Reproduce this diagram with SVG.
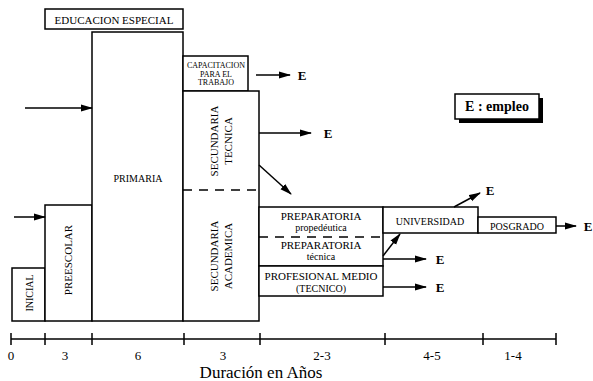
<svg xmlns="http://www.w3.org/2000/svg" width="593" height="381" viewBox="0 0 593 381">
<style>
.box{fill:#fff;stroke:#000;stroke-width:1.5}
.ln{stroke:#000;stroke-width:1.5;fill:none}
.dash{stroke:#000;stroke-width:1.5;stroke-dasharray:9,7;fill:none}
.t{font-family:'Liberation Serif','DejaVu Serif',serif;fill:#000;text-anchor:middle;dominant-baseline:central}
.s11{font-size:11px}
.s10{font-size:10px}
.s8{font-size:8px}
.e{font-size:13px;font-weight:bold}
.ax{font-size:13px}
</style>
<defs>
<marker id="ah" markerUnits="userSpaceOnUse" markerWidth="12" markerHeight="8" refX="11" refY="4" orient="auto">
<path d="M0,0.5 L12,4 L0,7.5 Z" fill="#000"/>
</marker>
</defs>
<g id="especial"><rect class="box" x="45" y="9" width="138" height="20"/><text class="t s11" x="114" y="19.5">EDUCACION ESPECIAL</text></g>
<g id="inicial"><rect class="box" x="12" y="268" width="33" height="53"/><text class="t s10" transform="translate(29,293) rotate(-90)">INICIAL</text></g>
<g id="preescolar"><rect class="box" x="45" y="205" width="47" height="116"/><text class="t s11" transform="translate(68,260) rotate(-90)">PREESCOLAR</text></g>
<g id="primaria"><rect class="box" x="92" y="32" width="91" height="289"/><text class="t s10" x="138" y="178">PRIMARIA</text></g>
<g id="capacitacion"><rect class="box" x="183" y="56" width="65" height="35"/><text class="t s8" x="216" y="65.5">CAPACITACION</text><text class="t s8" x="216" y="74">PARA EL</text><text class="t s8" x="216" y="82.5">TRABAJO</text></g>
<g id="secundaria"><rect class="box" x="183" y="91" width="76" height="230"/>
<text class="t s11" transform="translate(214,141) rotate(-90)">SECUNDARIA</text><text class="t s11" transform="translate(228,141) rotate(-90)">TECNICA</text>
<text class="t s11" transform="translate(214,256) rotate(-90)">SECUNDARIA</text><text class="t s11" transform="translate(228,256) rotate(-90)">ACADEMICA</text>
<line class="dash" x1="183" y1="190" x2="259" y2="190"/></g>
<g id="preparatoria"><rect class="box" x="259" y="207" width="124" height="59"/>
<text class="t s11" x="321" y="216">PREPARATORIA</text><text class="t s10" x="321" y="227">propedéutica</text>
<line class="dash" x1="259" y1="237" x2="383" y2="237"/>
<text class="t s11" x="321" y="245">PREPARATORIA</text><text class="t s10" x="321" y="256">técnica</text></g>
<g id="profesional"><rect class="box" x="259" y="266" width="124" height="30"/><text class="t s11" x="321" y="276">PROFESIONAL MEDIO</text><text class="t s10" x="321" y="288">(TECNICO)</text></g>
<g id="universidad"><rect class="box" x="383" y="207" width="95" height="26"/><text class="t s10" x="430" y="221">UNIVERSIDAD</text></g>
<g id="posgrado"><rect class="box" x="478" y="217" width="78" height="16"/><text class="t s10" x="517" y="226">POSGRADO</text></g>
<g id="leyenda"><rect x="459" y="98" width="84" height="25" fill="#000"/><rect class="box" x="455" y="94" width="84" height="25"/><text class="t" x="497" y="106.5" style="font-size:14px;font-weight:bold">E :  empleo</text></g>
<g id="connectors">
<line class="ln" x1="25" y1="108" x2="92" y2="108" marker-end="url(#ah)"/>
<line class="ln" x1="14" y1="217" x2="45" y2="217" marker-end="url(#ah)"/>
<line class="ln" x1="256" y1="75" x2="290" y2="75" marker-end="url(#ah)"/>
<line class="ln" x1="259" y1="133" x2="311" y2="133" marker-end="url(#ah)"/>
<line class="ln" x1="259" y1="165" x2="291" y2="194" marker-end="url(#ah)"/>
<line class="ln" x1="383" y1="256" x2="400" y2="234" marker-end="url(#ah)"/>
<line class="ln" x1="454" y1="207" x2="480" y2="193" marker-end="url(#ah)"/>
<line class="ln" x1="556" y1="226" x2="576" y2="226" marker-end="url(#ah)"/>
<line class="ln" x1="383" y1="259" x2="426" y2="259" marker-end="url(#ah)"/>
<line class="ln" x1="383" y1="287" x2="426" y2="287" marker-end="url(#ah)"/>
</g>
<g id="empleo">
<text class="t e" x="302" y="75">E</text>
<text class="t e" x="328" y="133">E</text>
<text class="t e" x="490" y="190">E</text>
<text class="t e" x="588" y="226">E</text>
<text class="t e" x="440" y="259">E</text>
<text class="t e" x="440" y="287">E</text>
</g>
<g id="eje">
<line class="ln" x1="11" y1="339" x2="556" y2="339"/>
<path class="ln" d="M11,333V345M45,333V345M92,333V345M184,333V345M260,333V345M385,333V345M483,333V345M556,333V345"/>
<text class="t ax" x="11" y="355">0</text>
<text class="t ax" x="65" y="355">3</text>
<text class="t ax" x="138" y="355">6</text>
<text class="t ax" x="223" y="355">3</text>
<text class="t ax" x="322" y="355">2-3</text>
<text class="t ax" x="432" y="355">4-5</text>
<text class="t ax" x="513" y="355">1-4</text>
<text class="t" x="261" y="372" style="font-size:17px">Duración en Años</text>
</g>
</svg>
